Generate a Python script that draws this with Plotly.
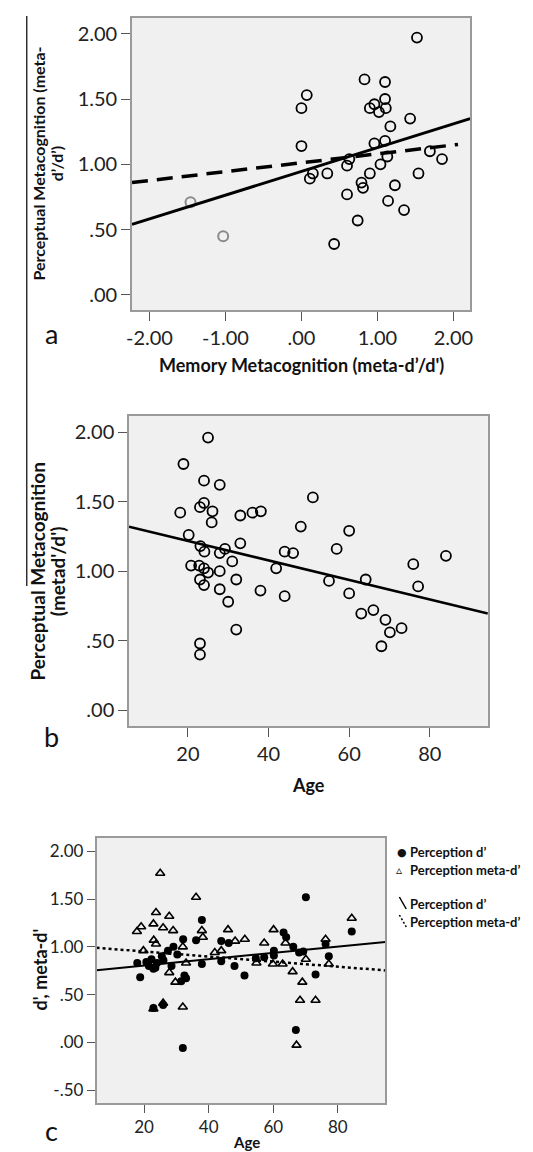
import numpy as np
import plotly.graph_objects as go

W, H = 533, 1152

# ---------------- Panel a data ----------------
a_mem = [1.52, 0.83, 1.10, 0.07, 0.00, 1.10, 0.96, 0.90, 1.11, 1.02, 1.43, 1.17,
         0.00, 0.96, 1.10, 1.13, 1.69, 1.85, 1.04, 0.60, 0.63, 0.15, 0.11, 0.34,
         0.90, 1.54, 0.79, 0.81, 1.23, 0.60, 1.14, 1.35, 0.74, 0.43]
a_perc = [1.97, 1.65, 1.63, 1.53, 1.43, 1.50, 1.46, 1.43, 1.43, 1.40, 1.35, 1.29,
          1.14, 1.16, 1.18, 1.06, 1.10, 1.04, 1.00, 0.99, 1.04, 0.93, 0.89, 0.93,
          0.93, 0.93, 0.86, 0.82, 0.84, 0.77, 0.72, 0.65, 0.57, 0.39]
a_out_mem = [-1.46, -1.03]
a_out_perc = [0.71, 0.45]
a_fit_all = (0.946, 0.182)      # intercept, slope (solid)
a_fit_excl = (1.012, 0.068)     # intercept, slope (dashed)
a_xticks = [-2, -1, 0, 1, 2]
a_xticktext = ["-2.00", "-1.00", ".00", "1.00", "2.00"]
a_yticks = [0, 0.5, 1, 1.5, 2]
a_yticktext = [".00", ".50", "1.00", "1.50", "2.00"]

# ---------------- Panel b data ----------------
b_age = [25.0, 18.9, 24.0, 27.9, 51.0, 24.0, 23.0, 18.1, 26.1, 25.9, 33.0, 36.0,
         38.1, 48.0, 60.0, 20.2, 33.0, 23.1, 24.1, 29.2, 27.9, 44.0, 46.1, 56.9,
         84.0, 31.0, 20.8, 22.8, 24.0, 41.9, 75.9, 25.0, 27.9, 23.0, 24.0, 32.0,
         55.0, 64.1, 77.1, 27.9, 38.0, 44.0, 60.0, 30.0, 63.0, 66.0, 69.0, 70.1,
         73.0, 68.0, 32.0, 23.0, 23.0]
b_ratio = [1.96, 1.77, 1.65, 1.62, 1.53, 1.49, 1.46, 1.42, 1.43, 1.35, 1.40, 1.42,
           1.43, 1.32, 1.29, 1.26, 1.20, 1.18, 1.14, 1.16, 1.13, 1.14, 1.13, 1.16,
           1.11, 1.07, 1.04, 1.04, 1.02, 1.02, 1.05, 0.99, 1.00, 0.94, 0.90, 0.94,
           0.93, 0.94, 0.89, 0.87, 0.86, 0.82, 0.84, 0.78, 0.695, 0.72, 0.65, 0.56,
           0.59, 0.46, 0.58, 0.48, 0.40]
b_fit = (1.358, -0.00702)
age_ticks = [20, 40, 60, 80]
age_ticktext = ["20", "40", "60", "80"]

# ---------------- Panel c data ----------------
c_d_age = [70.1, 84.3, 37.9, 36.1, 32.1, 43.9, 46.2, 63.2, 64.0, 66.2, 69.3, 68.0,
           76.2, 77.2, 60.2, 60.2, 29.1, 27.4, 30.3, 25.5, 17.9, 20.7, 22.3, 24.0,
           18.8, 22.9, 37.9, 43.9, 48.0, 51.1, 54.6, 57.2, 73.1, 32.5, 31.5, 25.9,
           22.9, 32.0, 67.0, 21.5, 26.0, 28.5, 23.5, 33.0]
c_d_val = [1.52, 1.16, 1.28, 1.07, 1.08, 1.06, 1.04, 1.15, 1.10, 1.00, 0.95, 0.94,
           1.03, 0.90, 0.96, 0.91, 1.00, 0.96, 0.92, 0.90, 0.83, 0.84, 0.87, 0.83,
           0.68, 0.77, 0.82, 0.85, 0.80, 0.70, 0.88, 0.89, 0.71, 0.70, 0.64, 0.39,
           0.36, -0.06, 0.13, 0.80, 0.86, 0.80, 0.78, 0.67]
c_m_age = [25.0, 36.1, 23.7, 27.8, 84.3, 19.1, 22.9, 17.8, 25.9, 29.0, 37.9, 38.2,
           46.0, 60.1, 23.0, 23.7, 51.2, 48.2, 57.2, 63.8, 76.2, 19.8, 32.0, 41.9,
           43.9, 33.0, 54.8, 59.9, 62.9, 70.1, 77.2, 66.0, 69.0, 27.8, 29.7, 68.3,
           73.1, 32.0, 22.9, 25.9, 67.2]
c_m_val = [1.77, 1.52, 1.36, 1.32, 1.30, 1.21, 1.24, 1.16, 1.20, 1.17, 1.17, 1.10,
           1.18, 1.18, 1.07, 1.03, 1.08, 1.06, 1.04, 1.04, 1.08, 0.96, 1.00, 0.94,
           0.96, 0.83, 0.83, 0.82, 0.82, 0.87, 0.82, 0.74, 0.63, 0.73, 0.63, 0.44,
           0.44, 0.37, 0.35, 0.41, -0.03]
c_fit_d = (0.738, 0.0033)
c_fit_m = (1.004, -0.00265)
c_yticks = [-0.5, 0, 0.5, 1, 1.5, 2]
c_yticktext = ["-.50", ".00", ".50", "1.00", "1.50", "2.00"]

FONT = "Lato, 'Open Sans', sans-serif"
BG = "#f0f0f0"
AXC = "#9a9a9a"
TICKC = "#555555"


def px_x(p):
    return p / W


def px_y(p):
    return 1 - p / H


fig = go.Figure()

# panel a
fig.add_trace(go.Scatter(x=a_mem, y=a_perc, mode="markers", xaxis="x", yaxis="y",
                         marker=dict(symbol="circle-open", size=10, color="black",
                                     line=dict(width=1.8, color="black")),
                         showlegend=False))
fig.add_trace(go.Scatter(x=a_out_mem, y=a_out_perc, mode="markers", xaxis="x", yaxis="y",
                         marker=dict(symbol="circle-open", size=10, color="#8a8a8a",
                                     line=dict(width=2, color="#8a8a8a")),
                         showlegend=False))
a_xr = [-2.23, 2.22]
xs = np.array(a_xr)
fig.add_trace(go.Scatter(x=xs, y=a_fit_all[0] + a_fit_all[1] * xs, mode="lines",
                         xaxis="x", yaxis="y", line=dict(color="black", width=3),
                         showlegend=False))
xs2 = np.array([-2.23, 2.06])
fig.add_trace(go.Scatter(x=xs2, y=a_fit_excl[0] + a_fit_excl[1] * xs2, mode="lines",
                         xaxis="x", yaxis="y",
                         line=dict(color="black", width=3.5, dash="16px,9px"),
                         showlegend=False))

# panel b
fig.add_trace(go.Scatter(x=b_age, y=b_ratio, mode="markers", xaxis="x2", yaxis="y2",
                         marker=dict(symbol="circle-open", size=10, color="black",
                                     line=dict(width=1.8, color="black")),
                         showlegend=False))
b_xr = [5.4, 94.4]
xb = np.array(b_xr)
fig.add_trace(go.Scatter(x=xb, y=b_fit[0] + b_fit[1] * xb, mode="lines",
                         xaxis="x2", yaxis="y2", line=dict(color="black", width=2.5),
                         showlegend=False))

# panel c
c_xr = [5.3, 94.7]
xc = np.array(c_xr)
fig.add_trace(go.Scatter(x=xc, y=c_fit_m[0] + c_fit_m[1] * xc, mode="lines",
                         xaxis="x3", yaxis="y3", line=dict(color="black", width=2.5, dash="dot"),
                         showlegend=False))
fig.add_trace(go.Scatter(x=xc, y=c_fit_d[0] + c_fit_d[1] * xc, mode="lines",
                         xaxis="x3", yaxis="y3", line=dict(color="black", width=2),
                         showlegend=False))
fig.add_trace(go.Scatter(x=c_m_age, y=c_m_val, mode="markers", xaxis="x3", yaxis="y3",
                         marker=dict(symbol="triangle-up-open", size=8, color="black",
                                     line=dict(width=1.6, color="black")),
                         showlegend=False))
fig.add_trace(go.Scatter(x=c_d_age, y=c_d_val, mode="markers", xaxis="x3", yaxis="y3",
                         marker=dict(symbol="circle", size=8, color="black"),
                         showlegend=False))

common = dict(showgrid=False, zeroline=False, showline=True, linecolor=AXC, linewidth=1.5,
              mirror=True, ticks="outside", tickcolor=TICKC, ticklen=9, tickwidth=1.2,
              tickfont=dict(family=FONT, size=20, color="#222"))
small = {**common, "tickfont": dict(family=FONT, size=17, color="#222"), "ticklen": 8}

fig.update_layout(
    width=W, height=H, margin=dict(l=0, r=0, t=0, b=0),
    paper_bgcolor="white", plot_bgcolor=BG,
    xaxis=dict(domain=[px_x(120), px_x(464)], range=a_xr, anchor="y",
               tickvals=a_xticks, ticktext=a_xticktext, **common),
    yaxis=dict(domain=[px_y(302), px_y(10)], range=[-0.115, 2.12], anchor="x",
               tickvals=a_yticks, ticktext=a_yticktext, **common),
    xaxis2=dict(domain=[px_x(117), px_x(482)], range=b_xr, anchor="y2",
                tickvals=age_ticks, ticktext=age_ticktext, **common),
    yaxis2=dict(domain=[px_y(718), px_y(408)], range=[-0.113, 2.115], anchor="x2",
                tickvals=a_yticks, ticktext=a_yticktext, **common),
    xaxis3=dict(domain=[px_x(84), px_x(377.7)], range=c_xr, anchor="y3",
                tickvals=age_ticks, ticktext=age_ticktext, **small),
    yaxis3=dict(domain=[px_y(1095), px_y(830)], range=[-0.636, 2.14], anchor="x3",
                tickvals=c_yticks, ticktext=c_yticktext, **small),
)

ann = []


def text(x, y, t, size, bold=True, angle=0, xanchor="center", yanchor="middle", family=FONT):
    ann.append(dict(x=px_x(x), y=px_y(y), xref="paper", yref="paper", text=(f"<b>{t}</b>" if bold else t),
                    showarrow=False, textangle=angle, xanchor=xanchor, yanchor=yanchor,
                    font=dict(family=family, size=size, color="#111")))


# panel a titles
text(292, 357, "Memory Metacognition (meta-d’/d')", 18)
text(25, 156, "Perceptual Metacognition (meta-", 16, angle=-90)
text(44, 156, "d’/d’)", 16, angle=-90)
text(38, 325, "a", 27, bold=False)
# panel b titles
text(300, 777, "Age", 18)
text(23, 563, "Perceptual Metacognition", 19, angle=-90)
text(44, 563, "(metad'/d')", 19, angle=-90)
text(38, 728, "b", 27, bold=False)
# panel c titles
text(236, 1134, "Age", 15)
text(26, 962, "d', meta-d'", 18, angle=-90)
text(38, 1122, "c", 27, bold=False)
# legend
text(388, 844, "●", 11, bold=False, xanchor="left", family="DejaVu Sans")
text(401, 844, "Perception d’", 13, xanchor="left")
text(387, 862, "▵", 12, bold=False, xanchor="left", family="DejaVu Sans")
text(401, 862, "Perception meta-d’", 13, xanchor="left")
text(401, 896, "Perception d’", 13, xanchor="left")
text(401, 914, "Perception meta-d’", 13, xanchor="left")

shapes = [
    dict(type="line", xref="paper", yref="paper", x0=px_x(392), y0=px_y(889), x1=px_x(399), y1=px_y(901),
         line=dict(color="black", width=1.5)),
    dict(type="line", xref="paper", yref="paper", x0=px_x(392), y0=px_y(907), x1=px_x(399), y1=px_y(919),
         line=dict(color="black", width=1.5, dash="2px,2px")),
    dict(type="line", xref="paper", yref="paper", x0=px_x(13), y0=px_y(8), x1=px_x(13), y1=px_y(578),
         line=dict(color="black", width=1.2)),
]

fig.update_layout(annotations=ann, shapes=shapes)

fig.write_html("out.html")
